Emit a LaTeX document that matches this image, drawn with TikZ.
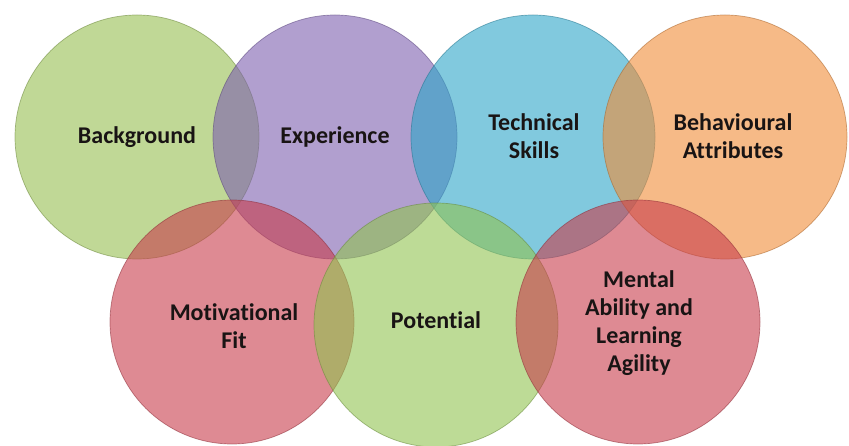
\documentclass[tikz,border=0pt]{standalone}
\usepackage{fontspec}
\setmainfont{Carlito}[RawFeature={-liga;-dlig;-clig}]
\definecolor{cgreen}{RGB}{150,190,80}
\definecolor{cpurple}{RGB}{125,95,175}
\definecolor{cblue}{RGB}{45,165,200}
\definecolor{corange}{RGB}{240,140,55}
\definecolor{cred}{RGB}{200,60,75}
\definecolor{cgreenb}{RGB}{145,195,80}
\definecolor{ctext}{RGB}{25,20,20}
\newcommand{\nl}{\kern0pt }
\tikzset{
  circ/.style={circle, minimum size=244pt, inner sep=0pt, fill=#1, fill opacity=0.6,
    draw=#1!70!black, draw opacity=0.55, line width=0.7pt},
  lbl/.style={font=\bfseries\fontsize{24}{28}\selectfont, text=ctext, align=center, inner sep=0pt}
}
\begin{document}
\begin{tikzpicture}[x=1pt,y=-1pt]
\useasboundingbox (0,0) rectangle (849,446);
\fill[white] (0,0) rectangle (849,446);
% top row
\node[circ=cgreen]  (bg) at (137,137) {};
\node[circ=cpurple] (ex) at (335,137) {};
\node[circ=cblue]   (ts) at (533,137) {};
\node[circ=corange] (ba) at (725,137) {};
% bottom row
\node[circ=cred]    (mf) at (232,322) {};
\node[circ=cgreenb] (po) at (436,325) {};
\node[circ=cred]    (ma) at (638,322) {};
% labels
\node[lbl] (tbg) at (137,137) {Background};
\node[lbl] (tex) at (335,137) {Experience};
\node[lbl] (tts) at (534,136) {Technical\\Skills};
\node[lbl] (tba) at (733,136) {Behavioural\\At\nl t\nl ributes};
\node[lbl] (tmf) at (234,326) {Mot\nl ivat\nl ional\\Fit};
\node[lbl] (tpo) at (436,320) {Potent\nl ial};
\node[lbl] (tma) at (639,323) {Mental\\Ability and\\Learning\\Agility};
\end{tikzpicture}
\end{document}
